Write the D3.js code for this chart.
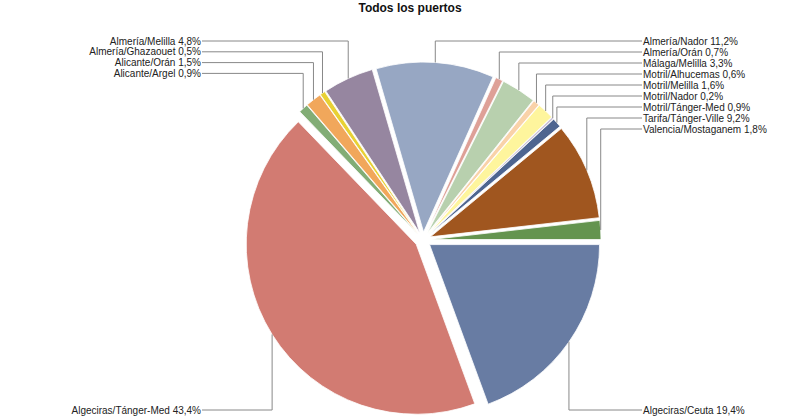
<!DOCTYPE html>
<html><head><meta charset="utf-8">
<script src="https://cdn.jsdelivr.net/npm/d3@7"></script>
<style>body{margin:0;background:#fff}svg{display:block}</style>
</head><body>
<svg id="chart" width="800" height="418"></svg>
<script>
const title = "Todos los puertos";
const categories = ["Algeciras/Ceuta","Algeciras/Tánger-Med","Alicante/Argel","Alicante/Orán","Almería/Ghazaouet","Almería/Melilla","Almería/Nador","Almería/Orán","Málaga/Melilla","Motril/Alhucemas","Motril/Melilla","Motril/Nador","Motril/Tánger-Med","Tarifa/Tánger-Ville","Valencia/Mostaganem"];
const values = [19.4,43.4,0.9,1.5,0.5,4.8,11.2,0.7,3.3,0.6,1.6,0.2,0.9,9.2,1.8];
const valueLabels = ["19,4%","43,4%","0,9%","1,5%","0,5%","4,8%","11,2%","0,7%","3,3%","0,6%","1,6%","0,2%","0,9%","9,2%","1,8%"];
const colors = ["#687ca3","#d27b72","#82ad76","#f1a75b","#e8d134","#9686a0","#97a7c3","#dea097","#b8d0ae","#f9d2a9","#fef59d","#c9bfd6","#4e6590","#a0561f","#64944f"];

const svg = d3.select("#chart");
const cx = 423, cy = 240, r = 170, explode = 8;

svg.append("text").attr("x", 410).attr("y", 12).attr("text-anchor", "middle")
  .attr("font-family", "Liberation Sans, Arial, sans-serif").attr("font-size", 12).attr("font-weight", "bold")
  .attr("fill", "#111").text(title);

const pie = d3.pie().sort(null).value(d => d).startAngle(Math.PI/2).endAngle(Math.PI/2 + 2*Math.PI);
const arcs = pie(values);
const arc = d3.arc().innerRadius(0).outerRadius(r);

const g = svg.append("g").attr("transform", `translate(${cx},${cy})`);
g.selectAll("path").data(arcs).join("path")
  .attr("d", arc)
  .attr("transform", d => {
    const a = (d.startAngle + d.endAngle)/2;
    return `translate(${explode*Math.sin(a)},${-explode*Math.cos(a)})`;
  })
  .attr("fill", (d,i) => colors[i])
  .attr("stroke", "#fff").attr("stroke-width", 0.8);

// label layout
const info = arcs.map((d,i) => {
  const a = (d.startAngle + d.endAngle)/2;
  const px = cx + (r+explode)*Math.sin(a), py = cy - (r+explode)*Math.cos(a);
  return {i, a, px, py, right: Math.sin(a) > 0, bottom: Math.cos(a) < -0.3};
});
const topRight = info.filter(o => !o.bottom && o.right).sort((a,b) => a.a - b.a);
const topLeft = info.filter(o => !o.bottom && !o.right).sort((a,b) => b.a - a.a);
topRight.forEach((o,k) => o.ly = 41 + k*11);
topLeft.forEach((o,k) => o.ly = 41 + k*10.8);
info.filter(o => o.bottom).forEach(o => o.ly = 410);

const lines = svg.append("g");
info.forEach(o => {
  const tx = o.right ? 642 : 202;
  lines.append("path")
    .attr("d", `M${o.px},${o.py}V${o.ly}H${tx}`)
    .attr("fill", "none").attr("stroke", "#888").attr("stroke-width", 1);
  lines.append("text")
    .attr("x", o.right ? tx + 1 : tx - 1).attr("y", o.ly).attr("dy", "0.35em")
    .attr("text-anchor", o.right ? "start" : "end")
    .attr("font-family", "Liberation Sans, Arial, sans-serif").attr("font-size", 10)
    .attr("fill", "#222")
    .text(categories[o.i] + " " + valueLabels[o.i]);
});
</script>
</body></html>
